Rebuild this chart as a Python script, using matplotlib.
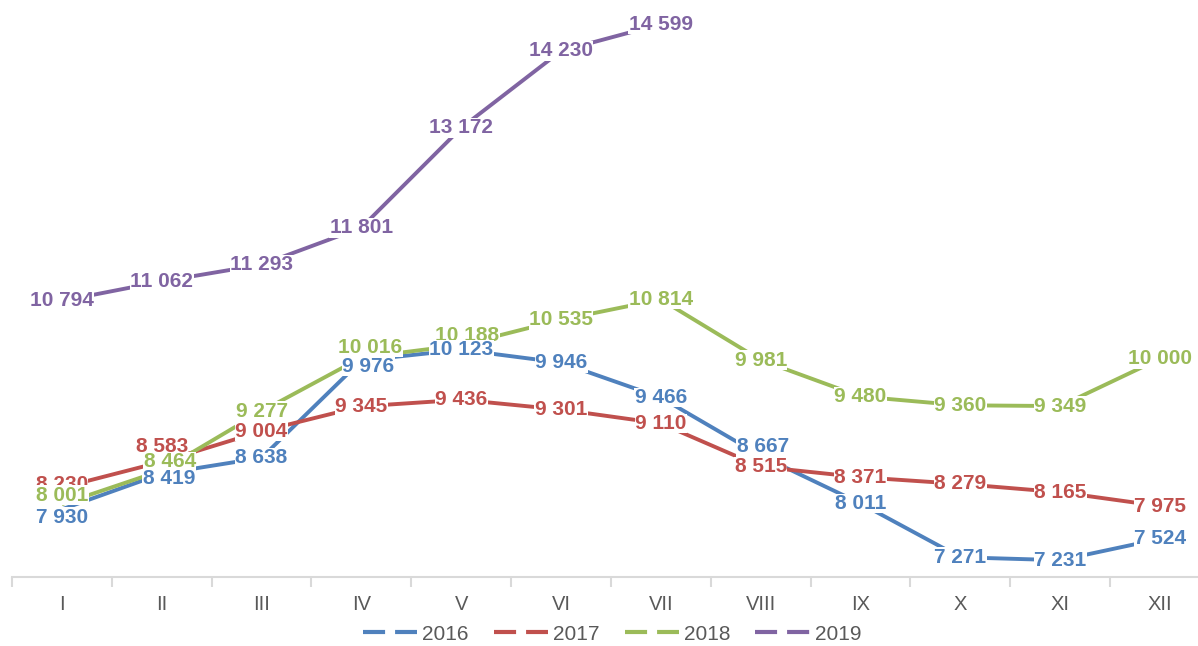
import matplotlib.pyplot as plt
from matplotlib.lines import Line2D

plt.rcParams['font.family'] = ['Liberation Sans', 'DejaVu Sans']

months = ["I", "II", "III", "IV", "V", "VI", "VII", "VIII", "IX", "X", "XI", "XII"]
years = ["2016", "2017", "2018", "2019"]
colors = ["#4F81BD", "#C0504D", "#9BBB59", "#8064A2"]

v2016 = [7930, 8419, 8638, 9976, 10123, 9946, 9466, 8667, 8011, 7271, 7231, 7524]
v2017 = [8230, 8583, 9004, 9345, 9436, 9301, 9110, 8515, 8371, 8279, 8165, 7975]
v2018 = [8001, 8464, 9277, 10016, 10188, 10535, 10814, 9981, 9480, 9360, 9349, 10000]
v2019 = [10794, 11062, 11293, 11801, 13172, 14230, 14599]
series = [v2016, v2017, v2018, v2019]

# hand-moved data labels (pixels, +y is up), as in the original chart
nudge = {
    (0, 0): (0, -8), (0, 1): (7, -5), (0, 3): (7, -6), (0, 7): (2, 9),
    (1, 0): (0, 3), (1, 1): (0, 15),
    (2, 0): (0, 9), (2, 1): (8, 9), (2, 3): (9, 10), (2, 4): (6, 10),
}
# which series' labels sit on top when they overlap
label_z = [6, 4, 5, 7]


def fmt(v):
    return f"{v:,}".replace(",", " ")


fig = plt.figure(figsize=(11.98, 6.46), dpi=100)
ax = fig.add_axes([0.01, 1 - 577 / 646, 1.0, 577 / 646])

for vals, c in zip(series, colors):
    ax.plot(range(len(vals)), vals, color=c, lw=2.8, solid_capstyle="butt", zorder=2)

for s, (vals, c) in enumerate(zip(series, colors)):
    for i, v in enumerate(vals):
        dx, dy = nudge.get((s, i), (0, 0))
        ax.annotate(fmt(v), (i, v), xytext=(dx, dy), textcoords="offset pixels",
                    color=c, fontsize=15, fontweight="bold",
                    ha="center", va="center", zorder=label_z[s], annotation_clip=False,
                    bbox=dict(facecolor="white", edgecolor="none", pad=0.3))

ax.set_xlim(-0.5, 11.5)
ax.set_ylim(7000, 14930)

for sp in ["top", "right", "left"]:
    ax.spines[sp].set_visible(False)
ax.spines["bottom"].set_color("#D9D9D9")
ax.spines["bottom"].set_linewidth(1.5)
ax.spines["bottom"].set_zorder(1)
ax.set_yticks([])
ax.set_xticks(range(12))
ax.set_xticklabels(months, fontsize=14.5, color="#595959")
ax.tick_params(axis="x", which="major", length=0, pad=13)
ax.set_xticks([i - 0.5 for i in range(13)], minor=True)
ax.tick_params(axis="x", which="minor", length=7, width=1.5, color="#D9D9D9")

handles = [Line2D([0], [0], color=c, lw=3, linestyle=(0, (5.3, 2.4))) for c in colors]
fig.legend(handles, years, loc="center", bbox_to_anchor=(612 / 1198, 1 - 634 / 646),
           ncol=4, frameon=False, fontsize=15, handlelength=2.6, handletextpad=0.25,
           columnspacing=1.2, labelcolor="#595959")

fig.savefig("out.png", dpi=100)
